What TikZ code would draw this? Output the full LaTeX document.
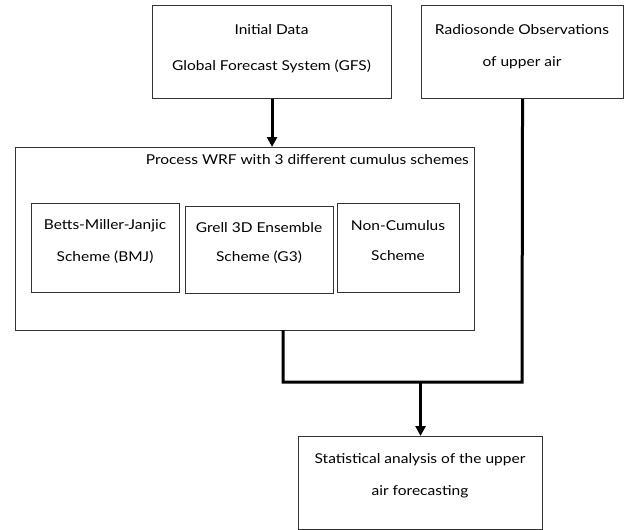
\documentclass[tikz,border=0pt]{standalone}
\usepackage{fontspec}
\setmainfont[FakeStretch=1.14]{Lato}
\usetikzlibrary{arrows.meta}
\begin{document}
\begin{tikzpicture}[x=1pt,y=-1pt,
  box/.style={draw=black!80, line width=1.1pt, minimum width=#1, inner sep=0pt, anchor=north west},
  txt/.style={font=\fontsize{13.6}{15}\selectfont, align=center, inner sep=0pt},
  conn/.style={line width=3pt, line join=miter},
  arr/.style={line width=3pt, -{Triangle[length=10pt,width=10pt]}}]
\useasboundingbox (0,0) rectangle (630,530);
% boxes
\node[box=239pt, minimum height=93pt] (init) at (152,5) {};
\node[box=202pt, minimum height=93pt] (radio) at (421,5) {};
\node[box=459pt, minimum height=183pt] (proc) at (15,147) {};
\node[box=148pt, minimum height=89pt] (bmj) at (31,203) {};
\node[box=148pt, minimum height=87pt] (g3) at (185,206) {};
\node[box=122pt, minimum height=89pt] (nc) at (337,203) {};
\node[box=244pt, minimum height=93pt] (stat) at (298,436) {};
% texts
\node[txt] (initT1) at (271.5,30) {Initial Data};
\node[txt] (initT2) at (271.5,66) {Global Forecast System (GFS)};
\node[txt] (radioT1) at (522,30) {Radiosonde Observations};
\node[txt] (radioT2) at (522,63) {of upper air};
\node[txt, anchor=east] (procT) at (469,160) {Process WRF with 3 different cumulus schemes};
\node[txt] (bmjT1) at (105,226) {Betts-Miller-Janjic};
\node[txt] (bmjT2) at (105,257) {Scheme (BMJ)};
\node[txt] (g3T1) at (259,228) {Grell 3D Ensemble};
\node[txt] (g3T2) at (259,257) {Scheme (G3)};
\node[txt] (ncT1) at (398,226) {Non-Cumulus};
\node[txt] (ncT2) at (398,256) {Scheme};
\node[txt] (statT1) at (420,460) {Statistical analysis of the upper};
\node[txt] (statT2) at (420,492) {air forecasting};
% connectors
\coordinate (pl) at (283,330);
\coordinate (jl) at (283,382);
\coordinate (jr) at (522,382);
\draw[arr] (init.south) -- (init.south |- proc.north);
\draw[conn] (pl) -- (jl) -- (jr) -- (radio.south);
\draw[arr] (stat.north |- jl) -- (stat.north);
\end{tikzpicture}
\end{document}
